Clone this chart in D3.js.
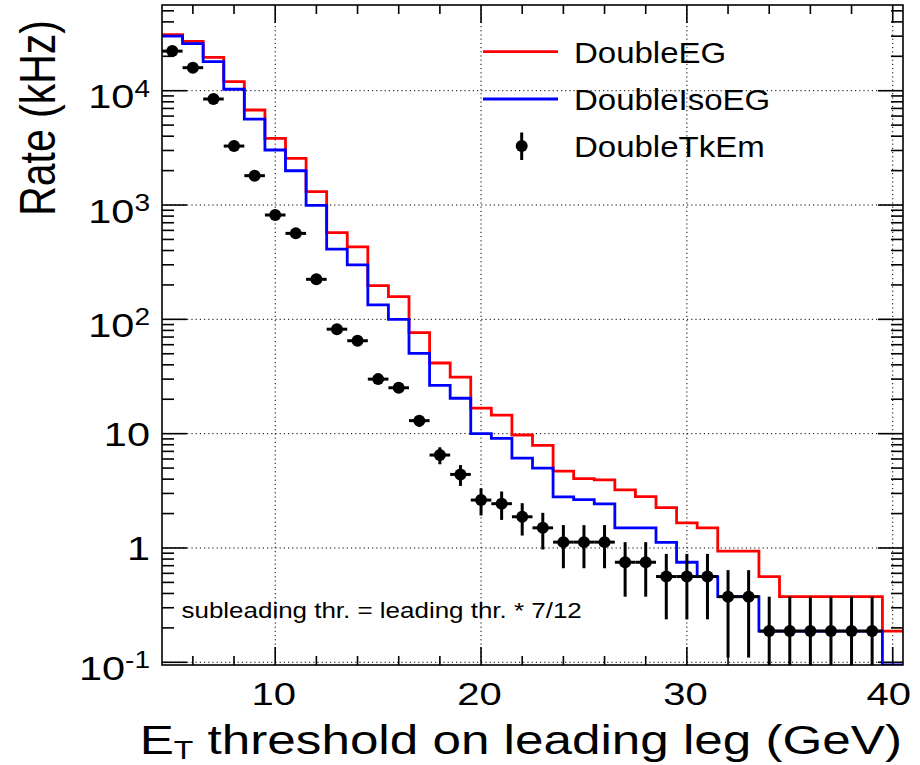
<!DOCTYPE html>
<html>
<head>
<meta charset="utf-8">
<script src="https://cdn.jsdelivr.net/npm/d3@7"></script>
<style>
  html, body { margin: 0; padding: 0; background: #fff; }
  svg { display: block; }
  text { font-family: "Liberation Sans", Arial, Helvetica, sans-serif; fill: #000; }
</style>
</head>
<body>
<svg id="chart" width="920" height="765"></svg>
<script>
// ---------------- data ----------------
const thresholds = [5,6,7,8,9,10,11,12,13,14,15,16,17,18,19,20,21,22,23,24,25,26,27,28,29,30,31,32,33,34,35,36,37,38,39,40];
const doubleEG = [31000,27000,19600,12000,6780,3830,2560,1308,573,430,197,158,76.4,41.5,31.2,16.7,14.5,9.73,7.9,4.7,4.05,3.95,3.22,2.81,2.25,1.66,1.5,0.94,0.94,0.5625,0.375,0.375,0.375,0.375,0.375,0.1875];
const doubleIsoEG = [30000,25800,18000,10300,5650,3030,1995,995,411,300,134,100,50.3,26.4,20.4,10.0,9.1,6.1,5.0,2.8,2.65,2.43,1.5,1.5,1.12,0.75,0.5625,0.375,0.375,0.1875,0.1875,0.1875,0.1875,0.1875,0.1875,0];
const tkEmThresholds = [5,6,7,8,9,10,11,12,13,14,15,16,17,18,19,20,21,22,23,24,25,26,27,28,29,30,31,32,33,34,35,36,37,38,39];
const doubleTkEm = [22200,15900,8460,3280,1806,818,565,224,82,65,30,25.2,13,6.5,4.4,2.625,2.44,1.875,1.5,1.125,1.125,1.125,0.75,0.75,0.5625,0.5625,0.5625,0.375,0.375,0.1875,0.1875,0.1875,0.1875,0.1875,0.1875];
const doubleTkEmErr = [64.5,54.6,39.8,24.8,18.4,12.4,10.3,6.5,3.9,3.5,2.37,2.19,1.56,1.10,0.91,0.70,0.68,0.59,0.53,0.46,0.46,0.46,0.375,0.375,0.325,0.325,0.325,0.265,0.265,0.1875,0.1875,0.1875,0.1875,0.1875,0.1875];
const xTickValues = [10,20,30,40];
const xTickLabels = ["10","20","30","40"];
const xMinorTicks = [6,8,12,14,16,18,22,24,26,28,32,34,36,38];
const yTickValues = [0.1,1,10,100,1000,10000];
const yTickBase = ["10","1","10","10","10","10"];
const yTickExp = ["-1","","","2","3","4"];
const legendLabels = ["DoubleEG","DoubleIsoEG","DoubleTkEm"];
const xTitleMain = "E";
const xTitleSub = "T";
const xTitleRest = " threshold on leading leg (GeV)";
const yTitle = "Rate (kHz)";
const note = "subleading thr. = leading thr. * 7/12";

// ---------------- layout ----------------
const L = 162, R = 903, T = 5, B = 665;
const svg = d3.select("#chart");
svg.append("rect").attr("width",920).attr("height",765).attr("fill","#fff");

const x = d3.scaleLinear().domain([4.5, 40.5]).range([L, R]);
const y = d3.scaleLog().domain([0.0947, 56200]).range([B, T]).clamp(true);
const yv = v => v > 0 ? y(v) : B;

svg.append("clipPath").attr("id","clip").append("rect")
  .attr("x",L).attr("y",T).attr("width",R-L).attr("height",B-T);

// grid
const grid = svg.append("g").attr("stroke","#000").attr("stroke-width",1).attr("stroke-dasharray","1.2,3");
grid.selectAll("line.gx").data(xTickValues).join("line")
  .attr("x1",d=>x(d)).attr("x2",d=>x(d)).attr("y1",T).attr("y2",B);
grid.selectAll("line.gy").data(yTickValues).join("line")
  .attr("y1",d=>y(d)).attr("y2",d=>y(d)).attr("x1",L).attr("x2",R);

// y minor ticks
const yMinor = [];
for (let e = -1; e <= 4; e++) for (let m = 2; m <= 9; m++) { const v = m*Math.pow(10,e); if (v < y.domain()[1]) yMinor.push(v); }

const ticks = svg.append("g").attr("stroke","#000").attr("stroke-width",1.6);
ticks.selectAll("line.ylm").data(yTickValues).join("line").attr("x1",L).attr("x2",L+25).attr("y1",d=>y(d)).attr("y2",d=>y(d));
ticks.selectAll("line.yln").data(yMinor).join("line").attr("x1",L).attr("x2",L+12).attr("y1",d=>y(d)).attr("y2",d=>y(d));
ticks.selectAll("line.yrm").data(yTickValues).join("line").attr("x1",R).attr("x2",R-25).attr("y1",d=>y(d)).attr("y2",d=>y(d));
ticks.selectAll("line.yrn").data(yMinor).join("line").attr("x1",R).attr("x2",R-12).attr("y1",d=>y(d)).attr("y2",d=>y(d));
ticks.selectAll("line.xbm").data(xTickValues).join("line").attr("x1",d=>x(d)).attr("x2",d=>x(d)).attr("y1",B).attr("y2",B-18);
ticks.selectAll("line.xbn").data(xMinorTicks).join("line").attr("x1",d=>x(d)).attr("x2",d=>x(d)).attr("y1",B).attr("y2",B-9);
ticks.selectAll("line.xtm").data(xTickValues).join("line").attr("x1",d=>x(d)).attr("x2",d=>x(d)).attr("y1",T).attr("y2",T+18);
ticks.selectAll("line.xtn").data(xMinorTicks).join("line").attr("x1",d=>x(d)).attr("x2",d=>x(d)).attr("y1",T).attr("y2",T+9);

// histograms
const plot = svg.append("g").attr("clip-path","url(#clip)");
function stepPath(vals){
  const pts = thresholds.map((t,i)=>[x(t-0.5), yv(vals[i])]);
  pts.push([x(thresholds[thresholds.length-1]+0.5), yv(vals[vals.length-1])]);
  return d3.line().curve(d3.curveStepAfter)(pts);
}
plot.append("path").attr("d",stepPath(doubleEG)).attr("fill","none").attr("stroke","#ff0000").attr("stroke-width",2.8);
plot.append("path").attr("d",stepPath(doubleIsoEG)).attr("fill","none").attr("stroke","#0000ff").attr("stroke-width",2.8);

// points with error bars
const pts = plot.append("g");
tkEmThresholds.forEach((t,i)=>{
  const v = doubleTkEm[i], e = doubleTkEmErr[i];
  pts.append("line").attr("x1",x(t-0.5)).attr("x2",x(t+0.5)).attr("y1",y(v)).attr("y2",y(v)).attr("stroke","#000").attr("stroke-width",3);
  pts.append("line").attr("x1",x(t)).attr("x2",x(t)).attr("y1",y(v+e)).attr("y2",yv(v-e)).attr("stroke","#000").attr("stroke-width",3);
  pts.append("circle").attr("cx",x(t)).attr("cy",y(v)).attr("r",6).attr("fill","#000");
});

// frame
svg.append("rect").attr("x",L).attr("y",T).attr("width",R-L).attr("height",B-T)
  .attr("fill","none").attr("stroke","#000").attr("stroke-width",1.6);

// ---------------- texts ----------------
function txt(xp, yp, sx, size, anchor){
  return svg.append("text").attr("transform",`translate(${xp},${yp}) scale(${sx},1)`)
    .attr("font-size",size).attr("text-anchor",anchor||"start");
}
yTickValues.forEach((v,i)=>{
  const hasExp = yTickExp[i] !== "";
  const t = txt(150, y(v) + (hasExp ? 17.5 : 12.5), 1.22, 34, "end");
  t.append("tspan").text(yTickBase[i]);
  if (hasExp) t.append("tspan").attr("font-size",23).attr("dy",-11.5).text(yTickExp[i]);
});
xTickValues.forEach((v,i)=>{
  const off = (i === xTickValues.length-1) ? -4 : -1.5;
  txt(x(v)+off, 704.5, 1.25, 32, "middle").text(xTickLabels[i]);
});
{
  const t = txt(902, 754, 1.28, 40, "end");
  t.append("tspan").text(xTitleMain);
  t.append("tspan").attr("font-size",25).attr("dy",5).text(xTitleSub);
  t.append("tspan").attr("dy",-5).text(xTitleRest);
}
svg.append("text").attr("transform","translate(55,20) scale(1.22,1) rotate(-90)")
  .attr("font-size",41).attr("text-anchor","end").text(yTitle);

txt(181.5, 617.5, 1.18, 22).text(note);

const lg = svg.append("g");
lg.append("line").attr("x1",483).attr("x2",558).attr("y1",51.7).attr("y2",51.7).attr("stroke","#ff0000").attr("stroke-width",2.8);
lg.append("line").attr("x1",483).attr("x2",558).attr("y1",99).attr("y2",99).attr("stroke","#0000ff").attr("stroke-width",2.8);
lg.append("line").attr("x1",521.7).attr("x2",521.7).attr("y1",132.5).attr("y2",160).attr("stroke","#000").attr("stroke-width",3);
lg.append("circle").attr("cx",521.7).attr("cy",146).attr("r",6).attr("fill","#000");
const legY = [63.3, 110, 156.7];
legendLabels.forEach((s,i)=> txt(574, legY[i], 1.1, 30).text(s));
</script>
</body>
</html>
